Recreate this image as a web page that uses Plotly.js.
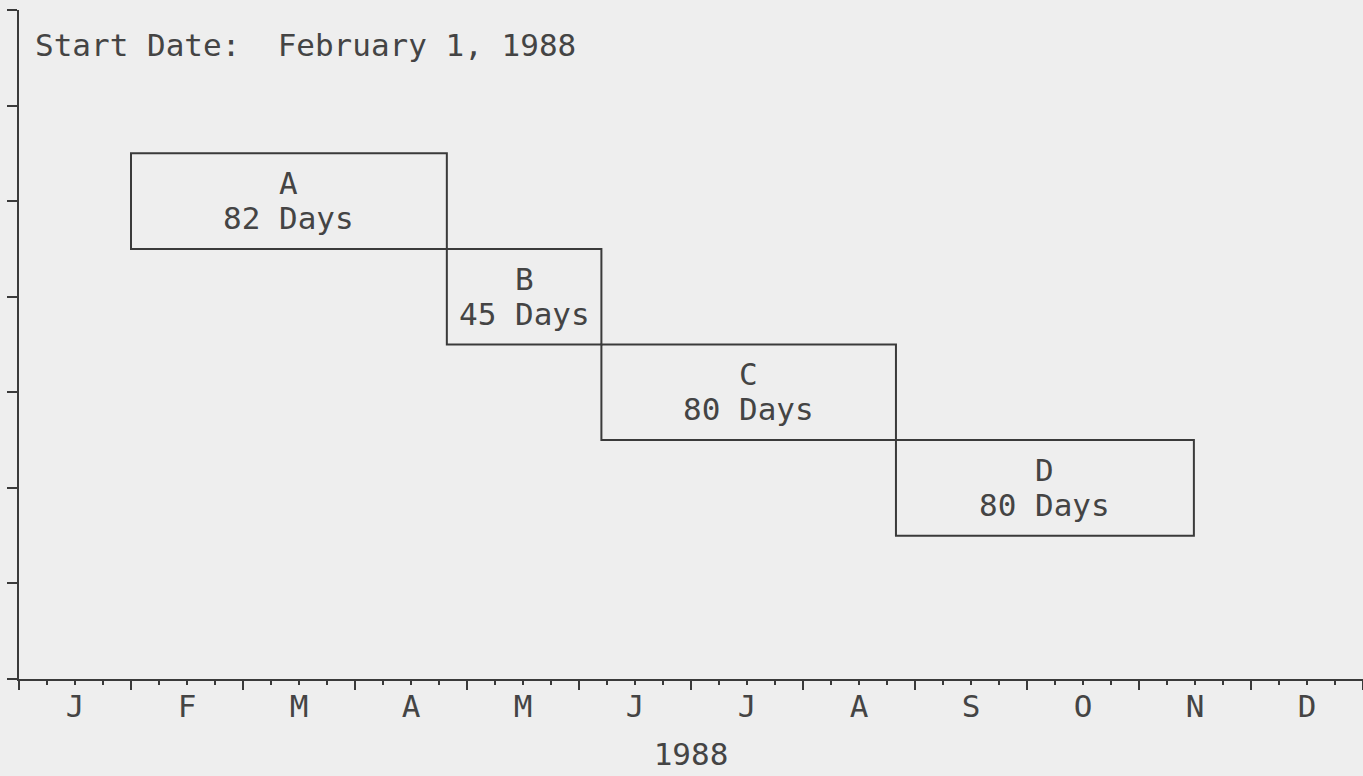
<!DOCTYPE html>
<html>
<head>
<meta charset="utf-8">
<script src="https://cdn.plot.ly/plotly-3.0.1.min.js"></script>
<style>
  html, body { margin: 0; padding: 0; background: #eeeeee; }
  #chart { width: 1363px; height: 776px; }
</style>
</head>
<body>
<div id="chart"></div>
<script>
// ---- data ----
const taskNames   = ['A', 'B', 'C', 'D'];
const taskDays    = [82, 45, 80, 80];
const taskRow     = [5, 4, 3, 2];                 // vertical row of each task
const taskStart   = [1.00, 3.82, 5.20, 7.83];     // start, in months from Jan 1 1988
const taskEnd     = [3.82, 5.20, 7.83, 10.49];    // end, in months from Jan 1 1988
const monthLabels = ['J','F','M','A','M','J','J','A','S','O','N','D'];
const yearLabel   = '1988';
const startText   = 'Start Date:  February 1, 1988';

// ---- style ----
const INK = '#3a3a3a';
const TXT = '#444444';
const FONT = 'DejaVu Sans Mono, Liberation Mono, monospace';
const FS = 31;

const monthCenters = monthLabels.map((_, i) => i + 0.5);
const monthBounds = monthLabels.map((_, i) => i).concat([monthLabels.length]);

const bars = {
  type: 'bar',
  orientation: 'h',
  y: taskRow,
  base: taskStart,
  x: taskEnd.map((e, i) => e - taskStart[i]),
  width: 1,
  marker: { color: 'rgba(0,0,0,0)', line: { color: INK, width: 2 } },
  hoverinfo: 'skip',
  showlegend: false
};
const labelAxisTrace = {
  type: 'scatter', x: [], y: [], xaxis: 'x2', yaxis: 'y',
  showlegend: false, hoverinfo: 'skip'
};

const annotations = [];
taskNames.forEach((n, i) => {
  const xc = (taskStart[i] + taskEnd[i]) / 2;
  annotations.push({
    x: xc, y: taskRow[i], xref: 'x', yref: 'y', text: n, showarrow: false,
    yshift: 18, font: { family: FONT, size: FS, color: TXT }
  });
  annotations.push({
    x: xc, y: taskRow[i], xref: 'x', yref: 'y', text: taskDays[i] + ' Days', showarrow: false,
    yshift: -17, font: { family: FONT, size: FS, color: TXT }
  });
});

const layout = {
  width: 1363, height: 776,
  paper_bgcolor: '#eeeeee', plot_bgcolor: '#eeeeee',
  margin: { l: 19, r: 0, t: 10, b: 97 },
  font: { family: FONT, size: FS, color: TXT },
  title: {
    text: startText, xref: 'container', yref: 'container',
    x: 35 / 1363, xanchor: 'left', y: 1 - 45 / 776, yanchor: 'middle',
    font: { family: FONT, size: FS, color: TXT }
  },
  bargap: 0,
  xaxis: {
    range: [0, 12], tickmode: 'array', tickvals: monthBounds,
    ticks: 'outside', ticklen: 9, tickwidth: 2, tickcolor: INK,
    showticklabels: false, showgrid: false, zeroline: false,
    showline: true, linecolor: INK, linewidth: 2,
    minor: { dtick: 0.25, tick0: 0, ticks: 'outside', ticklen: 4, tickwidth: 2, tickcolor: INK, showgrid: false }
  },
  xaxis2: {
    overlaying: 'x', anchor: 'y', side: 'bottom',
    range: [0, 12], tickmode: 'array', tickvals: monthCenters, ticktext: monthLabels,
    ticks: '', ticklen: 0, ticklabelstandoff: 6,
    showgrid: false, zeroline: false, showline: false,
    tickfont: { family: FONT, size: FS, color: TXT },
    title: { text: yearLabel, standoff: 20, font: { family: FONT, size: FS, color: TXT } }
  },
  yaxis: {
    range: [0, 7], tickmode: 'linear', tick0: 0, dtick: 1,
    ticks: 'outside', ticklen: 10, tickwidth: 2, tickcolor: INK,
    showticklabels: false, showgrid: false, zeroline: false,
    showline: true, linecolor: INK, linewidth: 2
  },
  annotations: annotations
};

Plotly.newPlot('chart', [bars, labelAxisTrace], layout, { displayModeBar: false, staticPlot: true });
</script>
</body>
</html>
